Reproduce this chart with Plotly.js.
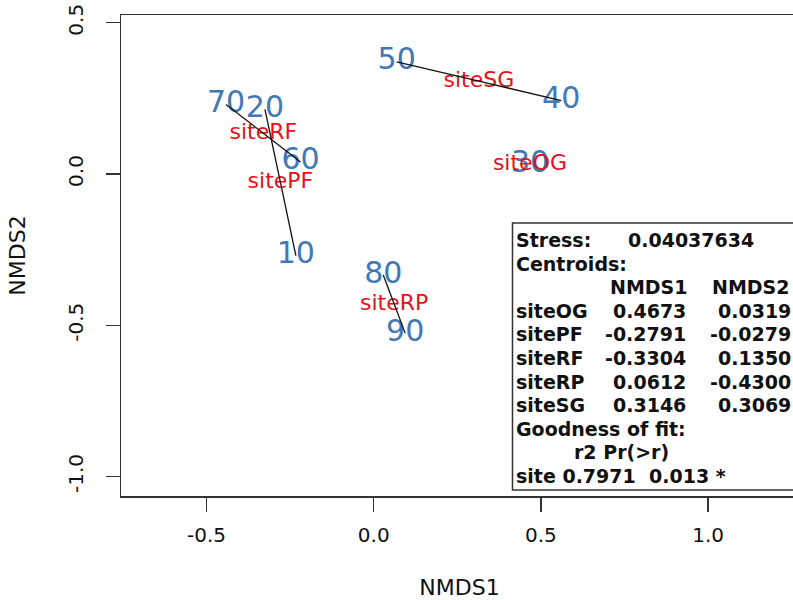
<!DOCTYPE html>
<html>
<head>
<meta charset="utf-8">
<script src="https://cdn.plot.ly/plotly-3.0.1.min.js"></script>
<style>
html, body { margin:0; padding:0; overflow:hidden; background:#fff; }
#chart { width:800px; height:600px; }
</style>
</head>
<body>
<div id="chart"></div>
<script>
// ---- data ----
const siteLabels = ['10','20','30','40','50','60','70','80','90'];
const siteGroup  = ['sitePF','sitePF','siteOG','siteSG','siteSG','siteRF','siteRF','siteRP','siteRP'];
const nmds1 = [-0.233, -0.3255, 0.4673, 0.5607, 0.0685, -0.219, -0.442, 0.0284, 0.094];
const nmds2 = [-0.270, 0.214, 0.0319, 0.2428, 0.371, 0.040, 0.230, -0.334, -0.526];

const centroidNames = ['siteOG','sitePF','siteRF','siteRP','siteSG'];
const cent1 = [0.4673, -0.2791, -0.3304, 0.0612, 0.3146];
const cent2 = [0.0319, -0.0279, 0.1350, -0.4300, 0.3069];
const cent1Text = ['0.4673','-0.2791','-0.3304','0.0612','0.3146'];
const cent2Text = ['0.0319','-0.0279','0.1350','-0.4300','0.3069'];

const stressText = '0.04037634';
const r2Text = '0.7971';
const pText = '0.013 *';

const xTickVals = [-0.5, 0.0, 0.5, 1.0];
const xTickText = ['-0.5','0.0','0.5','1.0'];
const yTickVals = [-1.0, -0.5, 0.0, 0.5];
const yTickText = ['-1.0','-0.5','0.0','0.5'];

// ---- spider segments (centroid -> site) ----
const spX = [], spY = [];
siteLabels.forEach((s, i) => {
  const c = centroidNames.indexOf(siteGroup[i]);
  spX.push(cent1[c], nmds1[i], null);
  spY.push(cent2[c], nmds2[i], null);
});

const traces = [
  { type:'scatter', mode:'text', x:nmds1, y:nmds2, text:siteLabels,
    textposition:'middle center', cliponaxis:false,
    textfont:{family:'DejaVu Sans', size:30, color:'#4179b6'}, hoverinfo:'skip' },
  { type:'scatter', mode:'text', x:cent1, y:cent2, text:centroidNames,
    textposition:'middle center', cliponaxis:false,
    textfont:{family:'DejaVu Sans', size:22, color:'#e8101a'}, hoverinfo:'skip' },
  { type:'scatter', mode:'lines', x:spX, y:spY, connectgaps:false,
    line:{color:'#111', width:1.3}, hoverinfo:'skip' }
];

// ---- layout geometry ----
const L = 121, R = 798, T = 15, B = 496;
const px = v => (v - L) / (R - L);
const py = v => (B - v) / (B - T);

const boxFont = {family:'DejaVu Sans', size:19, color:'#111', weight:'bold'};
const ann = [];
function addText(text, xpx, ypx, anchor) {
  ann.push({ text:text, xref:'paper', yref:'paper', x:px(xpx), y:py(ypx),
    xanchor:anchor, yanchor:'middle', showarrow:false, font:boxFont, borderpad:0 });
}
const row0 = 240, dRow = 23.6;
addText('Stress:', 515, row0, 'left');
addText(stressText, 627, row0, 'left');
addText('Centroids:', 515, row0 + dRow, 'left');
addText('NMDS1', 688, row0 + 2*dRow, 'right');
addText('NMDS2', 711, row0 + 2*dRow, 'left');
centroidNames.forEach((n, i) => {
  const y = row0 + (3 + i) * dRow;
  addText(n, 515, y, 'left');
  addText(cent1Text[i], 687, y, 'right');
  addText(cent2Text[i], 792, y, 'right');
});
addText('Goodness of fit:', 515, row0 + 8*dRow, 'left');
addText('r2 Pr(>r)', 573, row0 + 9*dRow, 'left');
addText('site ' + r2Text, 515, row0 + 10*dRow, 'left');
addText(pText, 648, row0 + 10*dRow, 'left');

const layout = {
  width:800, height:600,
  margin:{l:L, r:800-R, t:T, b:600-B, pad:0},
  paper_bgcolor:'#fff', plot_bgcolor:'#fff',
  showlegend:false, hovermode:false,
  font:{family:'DejaVu Sans', color:'#111'},
  xaxis:{ range:[-0.756, 1.269], tickvals:xTickVals, ticktext:xTickText,
    ticks:'outside', ticklen:14, tickwidth:1.3, tickcolor:'#333',
    showline:true, mirror:true, linecolor:'#333', linewidth:1.5,
    showgrid:false, zeroline:false, automargin:false,
    tickfont:{family:'DejaVu Sans', size:20, color:'#111'},
    ticklabelstandoff:6,
    title:{text:'NMDS1', font:{family:'DejaVu Sans', size:22, color:'#111'}, standoff:38} },
  yaxis:{ range:[-1.0645, 0.5256], tickvals:yTickVals, ticktext:yTickText,
    ticks:'outside', ticklen:14, tickwidth:1.3, tickcolor:'#333',
    showline:true, mirror:true, linecolor:'#333', linewidth:1.5,
    showgrid:false, zeroline:false, automargin:false, tickangle:-90,
    tickfont:{family:'DejaVu Sans', size:20, color:'#111'},
    ticklabelstandoff:15,
    title:{text:'NMDS2', font:{family:'DejaVu Sans', size:22, color:'#111'}, standoff:32} },
  shapes:[{ type:'rect', xref:'paper', yref:'paper',
    x0:px(512.5), x1:px(830), y0:py(490), y1:py(223),
    line:{color:'#333', width:1.5}, fillcolor:'rgba(255,255,255,0)', layer:'above' }],
  annotations:ann
};

Plotly.newPlot('chart', traces, layout, {displayModeBar:false, staticPlot:true});
</script>
</body>
</html>
